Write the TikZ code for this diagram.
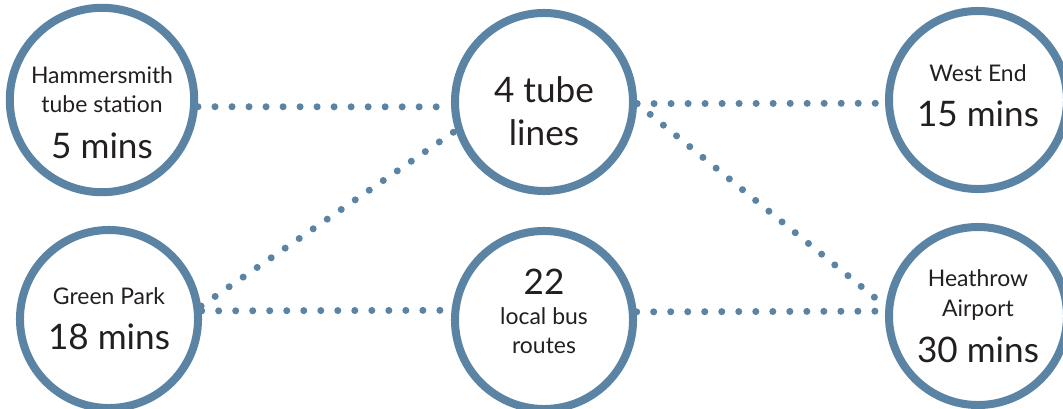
\documentclass[tikz,border=0pt]{standalone}
\usepackage{fontspec}
\setmainfont{Lato}
\usepackage{xcolor}
\usetikzlibrary{positioning}
\definecolor{ringblue}{HTML}{5B83A3}
\definecolor{inkgray}{HTML}{231F20}
\newcommand{\smalltxt}{\fontsize{16.3pt}{20pt}\selectfont\lineskiplimit=-30pt\relax}
\newcommand{\bigtxt}{\fontsize{25pt}{20pt}\selectfont}

\begin{document}
\begin{tikzpicture}[x=0.025cm, y=-0.025cm,
  stop/.style={circle, draw=ringblue, line width=5.7pt, fill=white,
    minimum size=4.45cm, inner sep=0pt, align=center, text=inkgray,
    font=\smalltxt},
  link/.style={draw=ringblue, line width=5pt, line cap=round,
    dash pattern=on 0pt off 12.1pt}]
  \useasboundingbox (0,0) rectangle (1063,408);

  % Nodes (struts nudge the text block inside the ring)
  \node[stop] (hs) at (102,100) {\rule{0pt}{30.7pt}Hammersmith\\tube station\\[13.4pt]\bigtxt 5 mins};
  \node[stop] (gp) at (109,319) {Green Park\\[12pt]\bigtxt 18 mins};
  \node[stop] (tl) at (544,102) {\bigtxt\rule{0pt}{31.5pt}4 tube\\[10.6pt]\bigtxt lines};
  \node[stop] (bus) at (544,320) {\bigtxt 22\\[1.3pt]local bus\\[0.6pt]routes\rule[-12.8pt]{0pt}{12.8pt}};
  \node[stop] (we) at (978,100) {West End\\[12pt]\bigtxt 15 mins\rule[-7pt]{0pt}{7pt}};
  \node[stop] (ha) at (978,316) {Heathrow\\[1.3pt]Airport\\[12.7pt]\bigtxt 30 mins};

  % Dotted links
  \draw[link] (hs.-4) -- (tl.183);
  \draw[link] (gp.8) -- (tl.198);
  \draw[link] (gp.5) -- (bus.174);
  \draw[link] (tl.-1) -- (we.182);
  \draw[link] (tl.-1) -- (ha.174);
  \draw[link] (bus.5) -- (ha.177);
\end{tikzpicture}
\end{document}
